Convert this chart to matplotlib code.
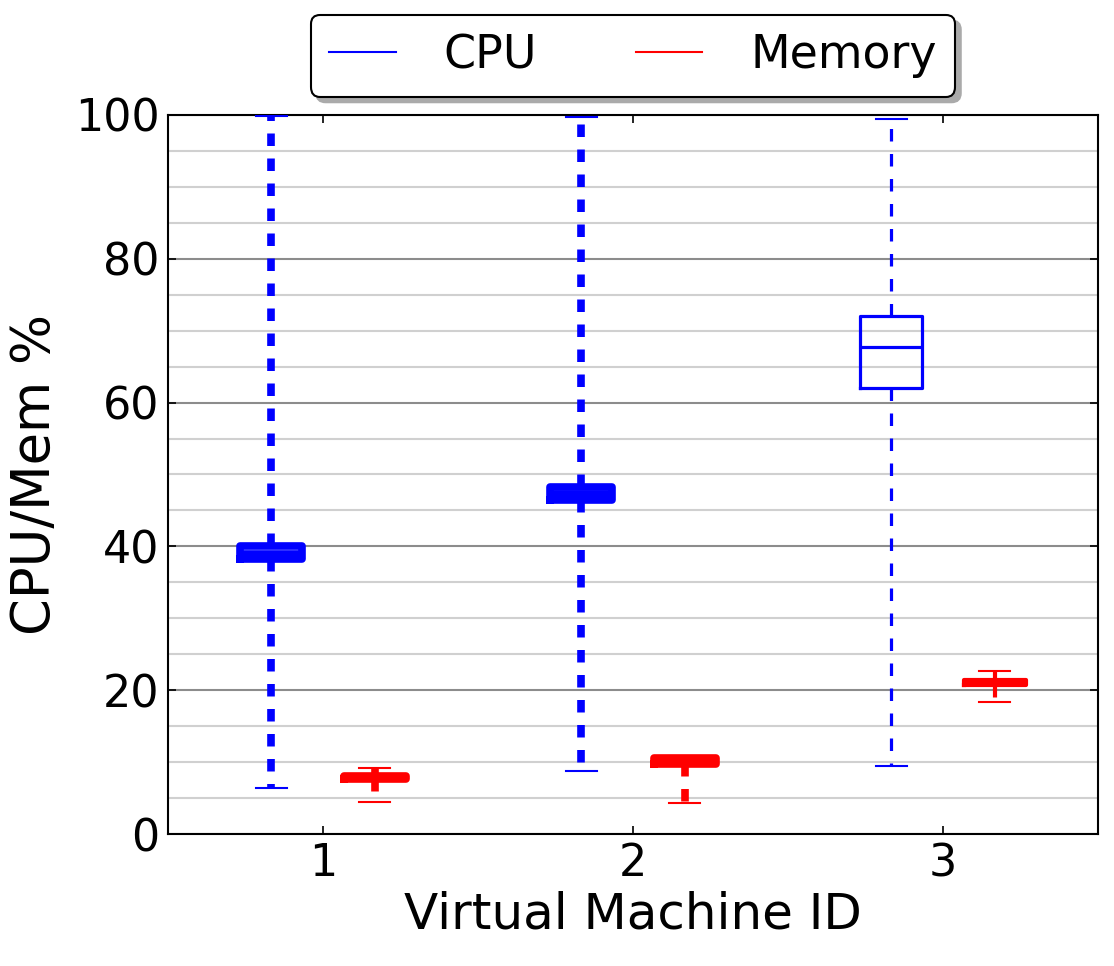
import matplotlib
matplotlib.use("Agg")
import matplotlib.pyplot as plt
from matplotlib.lines import Line2D
from matplotlib.ticker import MultipleLocator

plt.rcParams['font.family'] = ['DejaVu Sans']
plt.rcParams['lines.scale_dashes'] = False

vm_ids = [1, 2, 3]
tick_labels = ["1", "2", "3"]

cpu_whislo = [6.4, 8.8, 9.5]
cpu_q1 = [38.2, 46.4, 62.0]
cpu_med = [39.0, 47.3, 67.7]
cpu_q3 = [40.0, 48.3, 72.0]
cpu_whishi = [99.9, 99.7, 99.5]

mem_whislo = [4.4, 4.3, 18.4]
mem_q1 = [7.6, 9.7, 20.7]
mem_med = [7.8, 10.1, 21.0]
mem_q3 = [8.05, 10.6, 21.4]
mem_whishi = [9.2, 10.8, 22.7]

cpu_lw = [5.5, 5.5, 2.3]
mem_lw = [5.5, 5.5, 3.0]

fig = plt.figure(figsize=(11.14, 9.66), dpi=100)
ax = fig.add_axes([168/1114, 1-834/966, (1098-168)/1114, (834-115)/966])

def draw(whislo, q1, med, q3, whishi, offset, color, lws):
    for i, vm in enumerate(vm_ids):
        st = [dict(whislo=whislo[i], q1=q1[i], med=med[i], q3=q3[i], whishi=whishi[i], fliers=[])]
        lw = lws[i]
        ax.bxp(st, positions=[vm + offset], widths=0.2, showfliers=False,
               boxprops=dict(color=color, linewidth=lw),
               medianprops=dict(color=color, linewidth=lw),
               whiskerprops=dict(color=color, linewidth=lw, linestyle=(0, (9, 9)), dash_capstyle='butt'),
               capprops=dict(color=color, linewidth=1.5),
               manage_ticks=False, zorder=3)

draw(cpu_whislo, cpu_q1, cpu_med, cpu_q3, cpu_whishi, -1/6, 'blue', cpu_lw)
draw(mem_whislo, mem_q1, mem_med, mem_q3, mem_whishi, 1/6, 'red', mem_lw)

ax.set_xlim(0.5, 3.5)
ax.set_ylim(0, 100)
ax.set_xticks(vm_ids)
ax.set_xticklabels(tick_labels)
ax.yaxis.set_major_locator(MultipleLocator(20))
ax.yaxis.set_minor_locator(MultipleLocator(5))
ax.grid(which='major', axis='y', color='#8c8c8c', linewidth=1.5, zorder=0)
ax.grid(which='minor', axis='y', color='#d0d0d0', linewidth=1.5, zorder=0)
ax.set_axisbelow(True)
ax.tick_params(which='major', direction='in', length=6, width=1.2, top=True, right=True,
               labelsize=32, pad=6)
ax.tick_params(which='minor', length=0)
for s in ax.spines.values():
    s.set_linewidth(1.5)

ax.set_xlabel("Virtual Machine ID", fontsize=36, labelpad=4)
ax.set_ylabel("CPU/Mem %", fontsize=38, labelpad=10)

handles = [Line2D([], [], color='blue', linewidth=1.5), Line2D([], [], color='red', linewidth=1.5)]
leg = ax.legend(handles, ["CPU", "Memory"], loc='lower center', bbox_to_anchor=(0.5, 1.0),
                ncol=2, fontsize=33, frameon=True, fancybox=True,
                shadow={'ox': 4, 'oy': -4, 'color': '#aaaaaa', 'alpha': 1},
                handlelength=1.45, handletextpad=1.05, columnspacing=2.15,
                borderpad=0.4, borderaxespad=0.4, framealpha=1)
leg.get_frame().set_edgecolor('black')
leg.get_frame().set_linewidth(1.5)

fig.savefig("out.png", dpi=100)
